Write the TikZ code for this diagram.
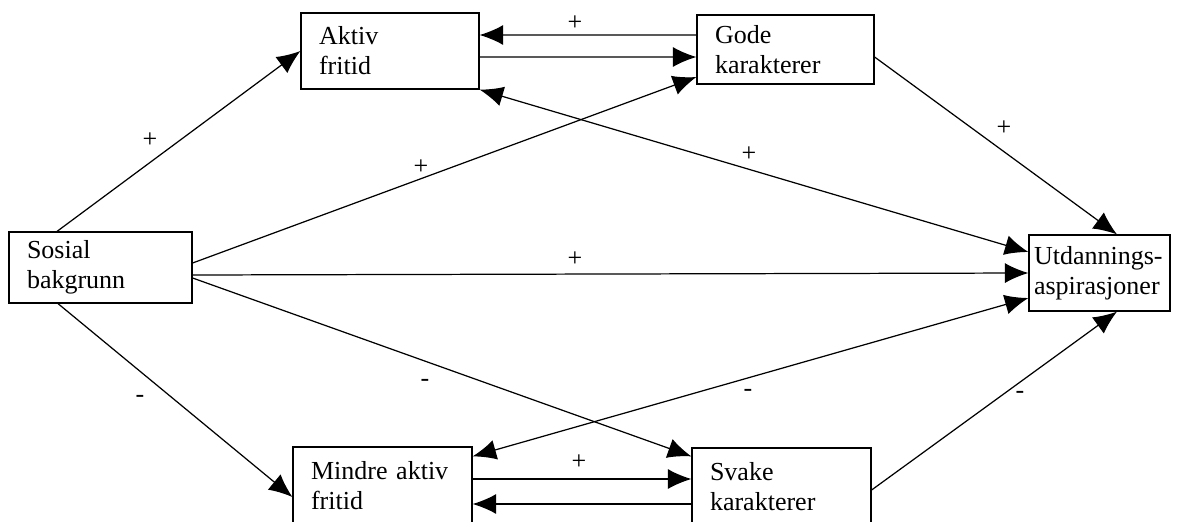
\documentclass[tikz,border=0pt]{standalone}
\usepackage{fontspec}
\setmainfont{Liberation Serif}
\usetikzlibrary{arrows.meta}

\tikzset{
	box/.style={draw, line width=0.7pt, inner xsep=0.36cm, inner ysep=0pt, align=left, font=\fontsize{14.8}{17}\selectfont},
	arr/.style={line width=0.7pt, -{Latex[length=0.47cm,width=0.4cm]}},
	darr/.style={line width=0.7pt, {Latex[length=0.47cm,width=0.4cm]}-{Latex[length=0.47cm,width=0.4cm]}},
	sign/.style={font=\fontsize{14.8}{17}\selectfont, inner sep=0pt}
}

\begin{document}
\begin{tikzpicture}[x=0.02cm, y=-0.02cm]
	\useasboundingbox (0,0) rectangle (1199,521);
	\clip (0,0) rectangle (1199,521);
	\fill[white] (0,0) rectangle (1199,521);
	\node[box, text width=2.84cm, minimum height=1.52cm] (aktiv) at (390,51) {Aktiv\\fritid};
	\node[box, text width=2.82cm, minimum height=1.38cm] (gode) at (785.5,49.5) {Gode\\karakterer};
	\node[box, text width=2.94cm, minimum height=1.42cm] (sosial) at (100.5,267.5) {Sosial\\bakgrunn};
	\node[box, inner xsep=0.1cm, text width=2.62cm, minimum height=1.52cm] (utd) at (1099.5,273) {Utdannings-\\aspirasjoner};
	\node[box, text width=2.86cm, minimum height=1.56cm] (mindre) at (382.5,486) {Mindre aktiv\\fritid};
	\node[box, text width=2.86cm, minimum height=1.56cm] (svake) at (781.5,487) {Svake\\karakterer};
	\draw[arr] ([xshift=-0.87cm]sosial.north) -- (aktiv.west);
	\draw[arr] ([yshift=0.29cm]gode.west) -- ([yshift=0.32cm]aktiv.east);
	\draw[arr] ([yshift=-0.12cm]aktiv.east) -- ([yshift=-0.15cm]gode.west);
	\draw[arr] ([yshift=0.09cm]sosial.east) -- ([yshift=-0.55cm]gode.west);
	\draw[darr] (aktiv.south east) -- ([yshift=0.42cm]utd.west);
	\draw[arr] ([yshift=-0.15cm]sosial.east) -- (utd.west);
	\draw[arr] ([yshift=-0.15cm]gode.east) -- ([xshift=0.35cm]utd.north);
	\draw[arr] ([xshift=-0.85cm]sosial.south) -- ([yshift=-0.22cm]mindre.west);
	\draw[arr] ([yshift=-0.21cm]sosial.east) -- ([yshift=-0.18cm]svake.north west);
	\draw[darr] ([yshift=-0.5cm]utd.west) -- ([yshift=-0.2cm]mindre.north east);
	\draw[arr] ([yshift=0.14cm]mindre.east) -- ([yshift=0.16cm]svake.west);
	\draw[arr] ([yshift=-0.34cm]svake.west) -- ([yshift=-0.36cm]mindre.east);
	\draw[arr] ([yshift=-0.06cm]svake.east) -- ([xshift=0.35cm]utd.south);
	\node[sign] (p1) at (150,140) {+};
	\node[sign] (p2) at (575,23) {+};
	\node[sign] (p3) at (421,167) {+};
	\node[sign] (p4) at (749,154) {+};
	\node[sign] (p5) at (575,259) {+};
	\node[sign] (p6) at (1004,128) {+};
	\node[sign] (p7) at (579,462) {+};
	\node[sign] (m1) at (140,399) {-};
	\node[sign] (m2) at (425,383) {-};
	\node[sign] (m3) at (748,393) {-};
	\node[sign] (m4) at (1020,395) {-};
\end{tikzpicture}
\end{document}
